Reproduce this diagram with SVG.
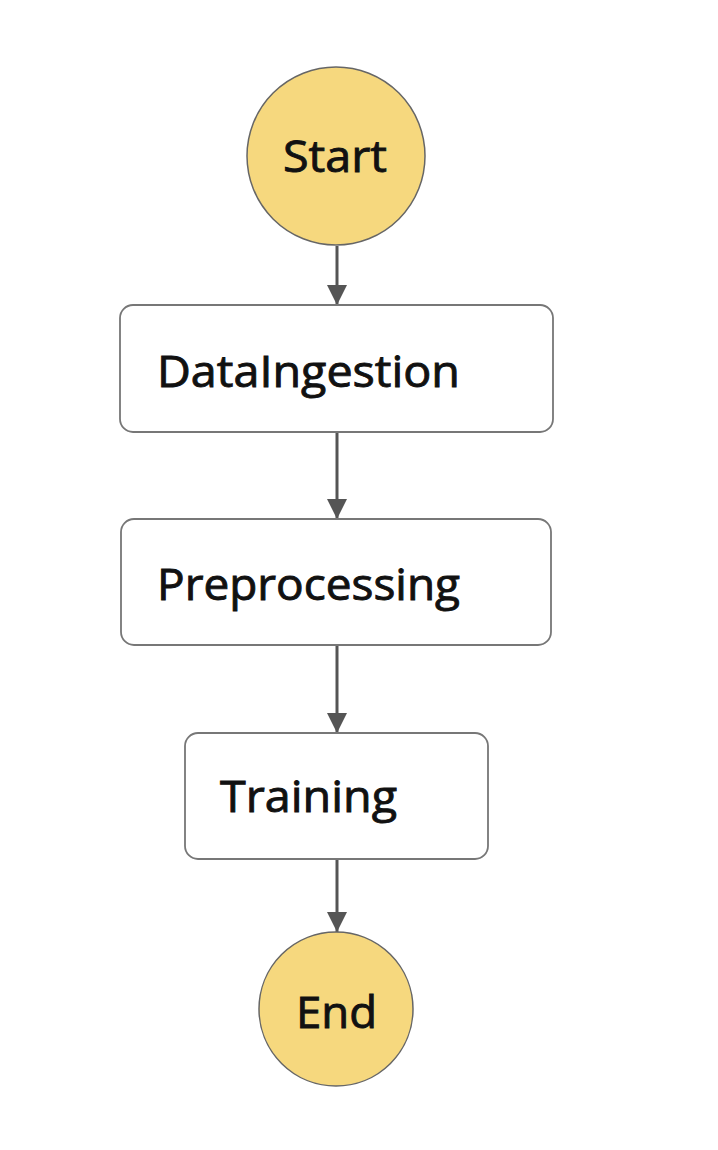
<svg xmlns="http://www.w3.org/2000/svg" width="718" height="1150" viewBox="0 0 718 1150">
<defs>
<style>
.term{fill:#F6D87E;stroke:#666;stroke-width:1.5}
.box{fill:#fff;stroke:#777;stroke-width:1.8}
.lbl{font-family:"Open Sans","Noto Sans",sans-serif;font-size:44px;fill:#111;stroke:#111;stroke-width:0.9}
.edge{stroke:#555;stroke-width:3;fill:none}
</style>
<marker id="ah" markerUnits="userSpaceOnUse" markerWidth="20" markerHeight="20" refX="20" refY="10" orient="auto" viewBox="0 0 20 20">
<path d="M0,0 L20,10 L0,20 Z" fill="#555"/>
</marker>
</defs>
<rect width="718" height="1150" fill="#fff"/>
<g id="connectors">
<line class="edge" x1="337" y1="246" x2="337" y2="305" marker-end="url(#ah)"/>
<line class="edge" x1="337" y1="432" x2="337" y2="519" marker-end="url(#ah)"/>
<line class="edge" x1="337" y1="645" x2="337" y2="733" marker-end="url(#ah)"/>
<line class="edge" x1="337" y1="859" x2="337" y2="932" marker-end="url(#ah)"/>
</g>
<g id="start">
<circle class="term" cx="336" cy="156" r="89"/>
<text class="lbl" x="283" y="172" textLength="104" lengthAdjust="spacingAndGlyphs">Start</text>
</g>
<g id="dataingestion">
<rect class="box" x="120" y="305" width="433" height="127" rx="13"/>
<text class="lbl" x="157" y="387" textLength="303" lengthAdjust="spacingAndGlyphs">DataIngestion</text>
</g>
<g id="preprocessing">
<rect class="box" x="121" y="519" width="430" height="126" rx="13"/>
<text class="lbl" x="157" y="600" textLength="303" lengthAdjust="spacingAndGlyphs">Preprocessing</text>
</g>
<g id="training">
<rect class="box" x="185" y="733" width="303" height="126" rx="13"/>
<text class="lbl" x="220" y="812" textLength="177" lengthAdjust="spacingAndGlyphs">Training</text>
</g>
<g id="end">
<circle class="term" cx="336" cy="1009" r="77"/>
<text class="lbl" x="296" y="1028" textLength="81" lengthAdjust="spacingAndGlyphs">End</text>
</g>
</svg>
